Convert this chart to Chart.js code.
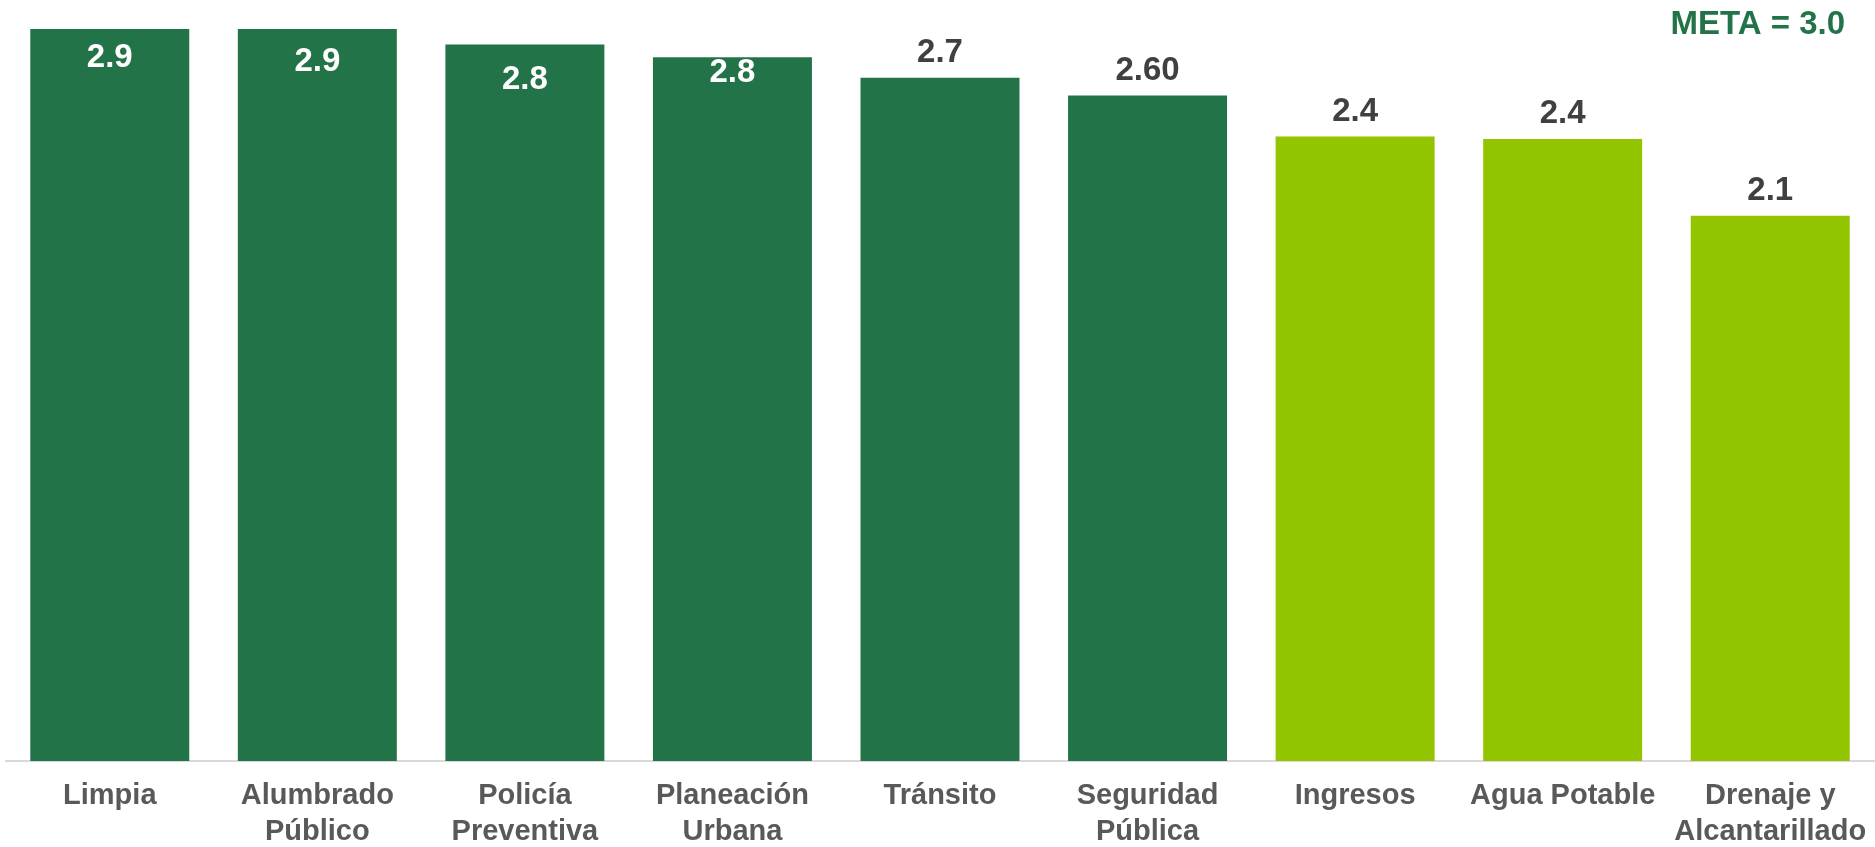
<!DOCTYPE html>
<html lang="es">
<head>
  <meta charset="UTF-8">
  <title>Calificación por servicio</title>
  <script src="https://cdn.jsdelivr.net/npm/chart.js"></script>
  <style>
    * { margin:0; padding:0; box-sizing:border-box; }
    html,body { width:100%; height:100%; overflow:hidden; background:#fff; }
    #wrap { position:relative; width:1875px; height:847px; }
  </style>
</head>
<body>
  <div id="wrap"><canvas id="chart"></canvas></div>

  <script>
    // data
    const categories = [
      'Limpia', ['Alumbrado', 'Público'], ['Policía', 'Preventiva'], ['Planeación', 'Urbana'],
      'Tránsito', ['Seguridad', 'Pública'], 'Ingresos', 'Agua Potable', ['Drenaje y', 'Alcantarillado']
    ];
    const scores = [2.86, 2.86, 2.80, 2.75, 2.67, 2.60, 2.44, 2.43, 2.13];
    const scoreLabels = ['2.9', '2.9', '2.8', '2.8', '2.7', '2.60', '2.4', '2.4', '2.1'];
    const meta = 3.0;

    const DARK = '#227448', LIGHT = '#92c400';
    const FONT = "'Liberation Sans', Arial, sans-serif";

    // label centre relative to bar top (px, + is down); first four sit inside the bar
    const labelShift = [29, 33, 36, 16, -25, -25, -25, -25, -25];

    const valueLabels = {
      id: 'valueLabels',
      afterDatasetsDraw(chart) {
        const ctx = chart.ctx;
        const bars = chart.getDatasetMeta(0).data;
        ctx.save();
        ctx.font = 'bold 33px ' + FONT;
        ctx.textAlign = 'center';
        ctx.textBaseline = 'middle';
        bars.forEach((bar, i) => {
          ctx.fillStyle = labelShift[i] > 0 ? '#ffffff' : '#404040';
          ctx.fillText(scoreLabels[i], bar.x, bar.y + labelShift[i]);
        });
        // goal note, top right
        ctx.fillStyle = DARK;
        ctx.textAlign = 'right';
        ctx.fillText('META = ' + meta.toFixed(1), 1845, 25);
        ctx.restore();
      }
    };

    new Chart(document.getElementById('chart'), {
      type: 'bar',
      data: {
        labels: categories,
        datasets: [{
          data: scores,
          backgroundColor: scores.map((v, i) => i < 6 ? DARK : LIGHT),
          categoryPercentage: 1,
          barPercentage: 0.766
        }]
      },
      options: {
        responsive: true,
        maintainAspectRatio: false,
        animation: false,
        layout: { padding: { left: 6, right: 1, top: 6, bottom: 0 } },
        plugins: { legend: { display: false }, tooltip: { enabled: false } },
        scales: {
          x: {
            grid: { display: false, drawTicks: false, tickLength: 0 },
            border: { display: true, color: '#d9d9d9', width: 2 },
            ticks: {
              color: '#595959',
              padding: 17,
              maxRotation: 0,
              autoSkip: false,
              font: { family: FONT, size: 29, weight: 'bold', lineHeight: 1.25 }
            },
            afterFit(scale) {
              scale.height = 86;
              // labels fit inside their slots, no extra side padding wanted
              scale.paddingLeft = 0;
              scale.paddingRight = 0;
            }
          },
          y: { display: false, min: 0, max: 2.95 }
        }
      },
      plugins: [valueLabels]
    });
  </script>
</body>
</html>
